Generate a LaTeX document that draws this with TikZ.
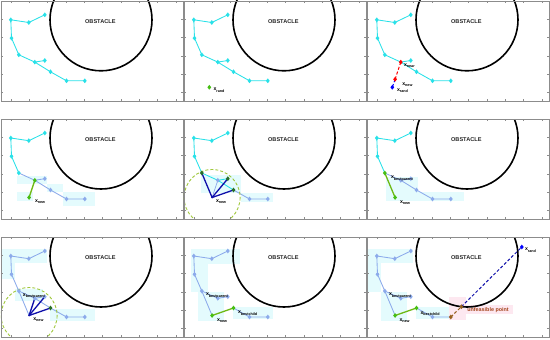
\documentclass[tikz,border=0pt]{standalone}
\usepackage{fontspec}
\setmainfont{Liberation Sans}
\usetikzlibrary{shapes.geometric}
\definecolor{cy}{RGB}{40,225,232}
\definecolor{lb}{RGB}{140,170,235}
\definecolor{hl}{RGB}{228,251,253}
\definecolor{gr}{RGB}{70,190,20}
\definecolor{grl}{RGB}{110,185,20}
\definecolor{dg}{RGB}{40,110,40}
\definecolor{db}{RGB}{15,15,170}
\definecolor{cg}{RGB}{160,200,60}
\definecolor{br}{RGB}{150,95,30}
\definecolor{brt}{RGB}{165,70,30}
\definecolor{pk}{RGB}{253,232,240}
\definecolor{fr}{RGB}{140,140,140}
\tikzset{
  mk/.style={diamond, minimum width=3.8pt, minimum height=4.8pt, inner sep=0pt, outer sep=0pt, fill=#1, draw=none},
  sm/.style={circle, minimum size=2pt, inner sep=0pt, fill=#1, draw=none},
  ed/.style={draw=#1, line width=0.85pt, line join=round},
  gline/.style={draw=grl, line width=1.3pt},
  lbl/.style={inner sep=0pt, anchor=base west, font=\fontsize{5.2}{6}\selectfont\bfseries},
  hlt/.style={fill=hl, draw=none},
  cand/.style={draw=db, line width=1.3pt},
  rad/.style={draw=cg, line width=0.9pt, dash pattern=on 3pt off 2pt},
  dsh/.style={draw=#1, line width=1pt, dash pattern=on 3pt off 2pt},
}
\newcommand\xs[1]{x\raisebox{-1.5pt}{\fontsize{3.7}{4}\selectfont\bfseries #1}}
\newcommand\deftree[1]{%
  \coordinate (#1A) at (10,19);
  \coordinate (#1B) at (28,21.7);
  \coordinate (#1C) at (44,14);
  \coordinate (#1D) at (10.7,37.3);
  \coordinate (#1E) at (18,54);
  \coordinate (#1F) at (34,61.3);
  \coordinate (#1G) at (44,59.7);
  \coordinate (#1H) at (49.7,71);
  \coordinate (#1I) at (65.7,80);
  \coordinate (#1J) at (84,80);
  \coordinate (#1R) at (25.5,86.5);
  \coordinate (#1N) at (28.3,78.5);
}
\newcommand\obst[1]{%
  \begin{scope}
    \clip (0,0) rectangle (182.5,100);
    \draw[line width=1.6pt] (100.2,19) circle[radius=51];
  \end{scope}
  \node[font=\fontsize{5.6}{6}\selectfont\bfseries, text=black!85, inner sep=0pt] (#1obs) at (99.5,20.5) {OBSTACLE};
}
\newcommand\radius[1]{%
  \begin{scope}
    \clip (0,0) rectangle (182.5,100);
    \draw[rad] (#1N) circle[radius=28];
  \end{scope}
}
\newcommand\frm{%
  \draw[fr, line width=0.5pt] (0,0) rectangle (182.5,100);
  \foreach \i in {0,...,9} {
    \draw[fr, line width=0.4pt] ({10+18.33*\i},0) -- ++(0,2);
    \draw[fr, line width=0.4pt] ({10+18.33*\i},100) -- ++(0,-2);
  }
  \foreach \j in {1,...,5} {
    \draw[fr, line width=0.4pt] (0,{18.33*\j}) -- ++(2,0);
    \draw[fr, line width=0.4pt] (182.5,{18.33*\j}) -- ++(-2,0);
  }
}
\begin{document}
\begin{tikzpicture}[x=1pt, y=-1pt]
\useasboundingbox[fill=white] (0,0) rectangle (550,340);

% ---------- Panel 1 ----------
\begin{scope}[shift={(0.8,0.8)}]
  \deftree{a}
  \obst{a}
  \draw[ed=cy] (aC) -- (aB) -- (aA) -- (aD) -- (aE) -- (aF) -- (aG) (aF) -- (aH) -- (aI) -- (aJ);
  \foreach \n in {A,B,C,D,E,F,G,H,I,J} \node[mk=cy] (a\n m) at (a\n) {};
  \frm
\end{scope}

% ---------- Panel 2 ----------
\begin{scope}[shift={(183.8,0.8)}]
  \deftree{b}
  \obst{b}
  \draw[ed=cy] (bC) -- (bB) -- (bA) -- (bD) -- (bE) -- (bF) -- (bG) (bF) -- (bH) -- (bI) -- (bJ);
  \foreach \n in {A,B,C,D,E,F,G,H,I,J} \node[mk=cy] (b\n m) at (b\n) {};
  \node[mk=gr] (bRm) at (bR) {};
  \node[lbl] (bRl) at (29.5,89.8) {\xs{rand}};
  \frm
\end{scope}

% ---------- Panel 3 ----------
\begin{scope}[shift={(366.8,0.8)}]
  \deftree{c}
  \obst{c}
  \draw[ed=cy] (cC) -- (cB) -- (cA) -- (cD) -- (cE) -- (cF) -- (cG) (cF) -- (cH) -- (cI) -- (cJ);
  \foreach \n in {A,B,C,D,E,G,H,I,J} \node[mk=cy] (c\n m) at (c\n) {};
  \draw[dsh=red] (cF) -- (cN);
  \draw[dsh=blue] (cN) -- (cR);
  \node[mk=red] (cFm) at (cF) {};
  \node[mk=red] (cNm) at (cN) {};
  \node[mk=blue] (cRm) at (cR) {};
  \node[lbl] (cFl) at (37,65.3) {\xs{near}};
  \node[lbl] (cNl) at (35.3,84.6) {\xs{new}};
  \node[lbl] (cRl) at (30,90.5) {\xs{rand}};
  \frm
\end{scope}

% ---------- Panel 4 ----------
\begin{scope}[shift={(0.8,119)}]
  \deftree{d}
  \fill[hlt] (15.7,56.7) rectangle (45.7,65);
  \fill[hlt] (45.7,65) rectangle (62.3,73.3);
  \fill[hlt] (15.7,73.3) rectangle (32.3,81.7);
  \fill[hlt] (62.3,73.3) rectangle (94,86.7);
  \obst{d}
  \draw[ed=cy] (dC) -- (dB) -- (dA) -- (dD) -- (dE);
  \draw[ed=lb] (dE) -- (dF) -- (dG) (dF) -- (dH) -- (dI) -- (dJ);
  \draw[gline] (dF) -- (dN);
  \foreach \n in {A,B,C,D,E} \node[mk=cy] (d\n m) at (d\n) {};
  \foreach \n in {G,H,I,J} \node[mk=lb] (d\n m) at (d\n) {};
  \node[mk=gr] (dFm) at (dF) {};
  \node[mk=gr] (dNm) at (dN) {};
  \node[lbl] (dNl) at (34,83.3) {\xs{new}};
  \frm
\end{scope}

% ---------- Panel 5 ----------
\begin{scope}[shift={(183.8,119)}]
  \deftree{e}
  \fill[hlt] (17.3,55.7) rectangle (57.3,74);
  \fill[hlt] (57.3,74) rectangle (89,83.3);
  \obst{e}
  \draw[ed=cy] (eC) -- (eB) -- (eA) -- (eD) -- (eE) -- (eF) -- (eG) (eF) -- (eH);
  \draw[ed=lb] (eH) -- (eI) -- (eJ);
  \draw[draw=lb, line width=0.7pt] (eN) -- (eF);
  \draw[cand] (eN) -- (eE);
  \draw[cand] (eN) -- (eG);
  \draw[cand] (eN) -- (eH);
  \radius{e}
  \foreach \n in {A,B,C,D} \node[mk=cy] (e\n m) at (e\n) {};
  \foreach \n in {F,I,J} \node[mk=lb] (e\n m) at (e\n) {};
  \foreach \n in {E,G,H} \node[mk=dg] (e\n m) at (e\n) {};
  \node[sm=db] (eNm) at (eN) {};
  \node[lbl] (eNl) at (32,83.3) {\xs{new}};
  \frm
\end{scope}

% ---------- Panel 6 ----------
\begin{scope}[shift={(366.8,119)}]
  \deftree{f}
  \fill[hlt] (19,58.3) rectangle (50.7,81.7);
  \fill[hlt] (50.7,73.3) rectangle (97.3,81.7);
  \obst{f}
  \draw[ed=cy] (fC) -- (fB) -- (fA) -- (fD) -- (fE);
  \draw[ed=lb] (fE) -- (fF) -- (fG) (fF) -- (fH) -- (fI) -- (fJ);
  \draw[gline] (fE) -- (fN);
  \foreach \n in {A,B,C,D} \node[mk=cy] (f\n m) at (f\n) {};
  \foreach \n in {F,G,H,I,J} \node[mk=lb] (f\n m) at (f\n) {};
  \node[mk=gr] (fEm) at (fE) {};
  \node[mk=gr] (fNm) at (fN) {};
  \node[lbl] (fEl) at (24,59.8) {\xs{bestparent}};
  \node[lbl] (fNl) at (33,84.2) {\xs{new}};
  \frm
\end{scope}

% ---------- Panel 7 ----------
\begin{scope}[shift={(0.8,237)}]
  \deftree{g}
  \fill[hlt] (0.7,12.3) rectangle (45.7,25.7);
  \fill[hlt] (0.7,25.7) rectangle (14,42.3);
  \fill[hlt] (14,52.3) rectangle (42.3,64);
  \fill[hlt] (49,72.3) rectangle (94,84);
  \obst{g}
  \draw[ed=lb] (gC) -- (gB) -- (gA) -- (gD) -- (gE) -- (gF) -- (gG) (gF) -- (gH) -- (gI) -- (gJ) (gE) -- (gN);
  \radius{g}
  \draw[cand] (gN) -- (gF);
  \draw[cand] (gN) -- (gG);
  \draw[cand] (gN) -- (gH);
  \foreach \n in {A,B,C,D,E,F,G,I,J} \node[mk=lb] (g\n m) at (g\n) {};
  \node[mk=dg] (gHm) at (gH) {};
  \node[sm=db] (gNm) at (gN) {};
  \node[lbl] (gEl) at (22,59.3) {\xs{bestparent}};
  \node[lbl] (gNl) at (32.3,83.2) {\xs{new}};
  \frm
\end{scope}

% ---------- Panel 8 ----------
\begin{scope}[shift={(183.8,237)}]
  \deftree{h}
  \fill[hlt] (7.3,11.7) rectangle (55.7,26.7);
  \fill[hlt] (7.3,26.7) rectangle (24,55);
  \fill[hlt] (14,55) rectangle (40,84);
  \fill[hlt] (49,70) rectangle (89,81.7);
  \obst{h}
  \draw[ed=lb] (hC) -- (hB) -- (hA) -- (hD) -- (hE) -- (hF) -- (hG) (hE) -- (hN) (hH) -- (hI) -- (hJ);
  \draw[gline] (hN) -- (hH);
  \foreach \n in {A,B,C,D,E,F,G,I,J} \node[mk=lb] (h\n m) at (h\n) {};
  \node[mk=gr] (hHm) at (hH) {};
  \node[mk=gr] (hNm) at (hN) {};
  \node[lbl] (hEl) at (22,58.8) {\xs{bestparent}};
  \node[lbl] (hHl) at (54,76.8) {\xs{bestchild}};
  \node[lbl] (hNl) at (33,84.3) {\xs{new}};
  \frm
\end{scope}

% ---------- Panel 9 ----------
\begin{scope}[shift={(366.8,237)}]
  \deftree{i}
  \coordinate (iS) at (155,10);
  \coordinate (iU) at (94.6,69.7);
  \fill[hlt] (0.7,12) rectangle (45.7,26);
  \fill[hlt] (0.7,26) rectangle (14,55);
  \fill[hlt] (14,55) rectangle (40,84);
  \fill[hlt] (49,70) rectangle (82,81.7);
  \fill[pk] (82.3,60) rectangle (99,83.3);
  \fill[pk] (99,67.5) rectangle (146,77);
  \obst{i}
  \draw[ed=lb] (iC) -- (iB) -- (iA) -- (iD) -- (iE) -- (iF) -- (iG) (iE) -- (iN) (iH) -- (iI) -- (iJ);
  \draw[gline] (iN) -- (iH);
  \draw[dsh=br] (iJ) -- (iU);
  \draw[dsh=db] (iU) -- (iS);
  \foreach \n in {A,B,C,D,E,F,G,I} \node[mk=lb] (i\n m) at (i\n) {};
  \node[mk=br] (iJm) at (iJ) {};
  \node[mk=br] (iUm) at (iU) {};
  \node[mk=blue] (iSm) at (iS) {};
  \node[mk=gr] (iHm) at (iH) {};
  \node[mk=gr] (iNm) at (iN) {};
  \node[lbl] (iEl) at (22,58.8) {\xs{bestparent}};
  \node[lbl] (iHl) at (53.5,77.2) {\xs{bestchild}};
  \node[lbl] (iNl) at (32.5,84.3) {\xs{new}};
  \node[lbl] (iSl) at (158,13.8) {\xs{rand}};
  \node[lbl, text=brt, font=\fontsize{5.4}{6}\selectfont\bfseries] (iUl) at (100.3,74.2) {unfeasible point};
  \frm
\end{scope}
\end{tikzpicture}
\end{document}
